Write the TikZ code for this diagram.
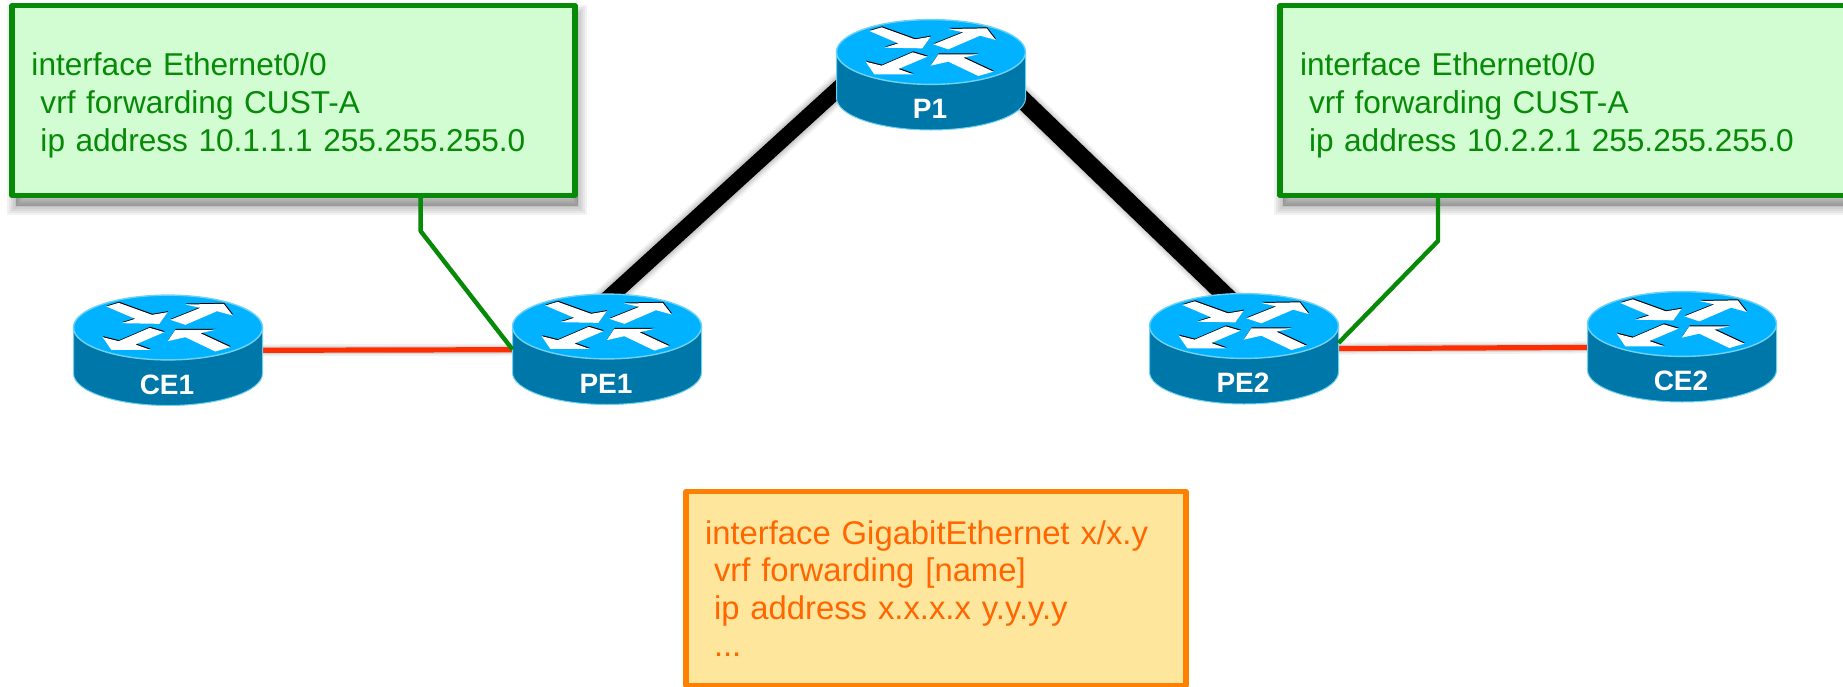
\documentclass[tikz,border=0pt]{standalone}
\usepackage{fontspec}
\setmainfont{Liberation Sans}
\usetikzlibrary{backgrounds}
\definecolor{rtop}{HTML}{00B2FF}
\definecolor{rbody}{HTML}{0077A9}
\definecolor{redge}{HTML}{70D2F2}
\definecolor{gline}{HTML}{078A07}
\definecolor{gfill}{HTML}{D2FCD2}
\definecolor{oline}{HTML}{FF7F00}
\definecolor{ofill}{HTML}{FFE69D}
\definecolor{otext}{HTML}{FF6600}
\definecolor{rlink}{HTML}{FF2E00}
\tikzset{
  routerbox/.style={minimum width=94.5pt,minimum height=55.5pt,inner sep=0pt,outer sep=0pt},
  routerlabel/.style={text=white,font=\fontsize{14}{16}\selectfont\bfseries,inner sep=0pt},
  arrowblack/.style={fill=black,draw=none},
  arrowwhite/.style={fill=white,draw=none},
  notegreen/.style={draw=gline,fill=gfill,line width=2.6pt,text=gline,align=left,inner sep=0pt,
    font=\fontsize{15.8}{19}\selectfont,line join=round},
  noteorange/.style={draw=oline,fill=ofill,line width=2.6pt,text=otext,align=left,inner sep=0pt,
    font=\fontsize{16.4}{18.75}\selectfont,line join=round},
  leader/.style={draw=gline,line width=2.2pt,line join=round},
  corelinkl/.style={draw=black,line width=8pt},
  corelinkr/.style={draw=black,line width=9pt},
  edgelink/.style={draw=rlink,line width=2.6pt},
  halo/.style={draw=black,opacity=.05}
}
\newcommand{\arrowset}[1]{%
  \path[#1] (-185,-63)--(-148,-74)--(-48,-38)--(-1,-46)--(-26,-11)--(-140,-13)--(-98,-26)--cycle;
  \path[#1] (7,-23)--(97,-59)--(52,-69)--(167,-71)--(194,-36)--(147,-49)--(52,-8)--cycle;
  \path[#1] (-11,14)--(-55,1)--(-148,41)--(-196,29)--(-170,67)--(-53,67)--(-98,51)--cycle;
  \path[#1] (-1,41)--(22,7)--(142,7)--(97,17)--(187,59)--(142,72)--(52,29)--cycle;
}
% name, centre x, centre y of the top face, label
\newcommand{\router}[4]{%
  \node[routerbox] (#1) at (#2,#3+23) {};
  \begin{scope}[shift={(#2,#3)}]
    \path[fill=rbody,draw=redge,line width=.5pt]
      (-94.5,0) -- (-94.5,46)
      arc[start angle=180,end angle=360,x radius=47.25pt,y radius=16pt]
      -- (94.5,0) -- cycle;
    \path[fill=rtop,draw=redge,line width=.7pt] (0,0) ellipse [x radius=47.25pt,y radius=16.2pt];
    \begin{scope}[x=.1667pt,y=-.1667pt]
      \begin{scope}[shift={(1.5,-3)}]\arrowset{arrowblack}\end{scope}
      \arrowset{arrowwhite}
    \end{scope}
    \node[routerlabel] (#1-label) at (-1,57) {#4};
  \end{scope}
}
\newcommand{\lift}{\rule{0pt}{16.5pt}}
\begin{document}
\begin{tikzpicture}[x=.5pt,y=-.5pt]
\clip (0,0) rectangle (1843,686);

% soft shadows of the notes
\foreach \w in {1,3,5,7,9}{
  \path[halo,line width=\w pt,fill=black,fill opacity=.05] (16,14) rectangle (578,206);
  \path[halo,line width=\w pt,fill=black,fill opacity=.05] (1283,14) rectangle (1860,206);
}

% routers
\router{CE1}{168}{327.5}{CE1}
\router{PE1}{607}{326.5}{PE1}
\router{P1}{931}{52}{P1}
\router{PE2}{1244}{326}{PE2}
\router{CE2}{1682}{324}{CE2}

% notes
\node[notegreen,minimum width=281.5pt,minimum height=95pt,text width=262pt] (note1) at (293.5,100.5)
  {\lift interface Ethernet0/0\\ \hspace*{4.5pt}vrf forwarding CUST-A\\ \hspace*{4.5pt}ip address 10.1.1.1 255.255.255.0};
\node[notegreen,minimum width=290pt,minimum height=95pt,text width=270pt] (note2) at (1570,100.5)
  {\lift interface Ethernet0/0\\ \hspace*{4.5pt}vrf forwarding CUST-A\\ \hspace*{4.5pt}ip address 10.2.2.1 255.255.255.0};
\node[noteorange,minimum width=250pt,minimum height=97pt,text width=231pt] (note3) at (936,588.5)
  {interface GigabitEthernet x/x.y\\ \hspace*{4.5pt}vrf forwarding [name]\\ \hspace*{4.5pt}ip address x.x.x.x y.y.y.y\\ \hspace*{4.5pt}...};

% connector helpers
\coordinate (bend1) at (420.6,231);
\coordinate (bend2) at (1438,241);
\coordinate (PEonecore) at (600,305.8);
\coordinate (Ponecoreleft) at (850,78);
\coordinate (Ponecoreright) at (1012,89.5);
\coordinate (PEtwocore) at (1236,305.6);

\begin{scope}[on background layer]
  \foreach \w/\o in {14/.05,12/.07,10/.09}{
    \draw[line width=\w pt,opacity=\o,shift={(2,5)}] (PEonecore) -- (Ponecoreleft);
    \draw[line width=\w pt,opacity=\o,shift={(2,5)}] (Ponecoreright) -- (PEtwocore);
  }
  \draw[corelinkl] (PEonecore) -- (Ponecoreleft);
  \draw[corelinkr] (Ponecoreright) -- (PEtwocore);
  \foreach \w/\o in {6/.06,4/.1}{
    \draw[line width=\w pt,opacity=\o,shift={(1,5)}] (CE1) -- (PE1);
    \draw[line width=\w pt,opacity=\o,shift={(1,5)}] (PE2) -- (CE2);
  }
  \draw[edgelink] (CE1) -- (PE1);
  \draw[edgelink] (PE2) -- (CE2);
\end{scope}

\draw[leader] (bend1 |- note1.south) -- (bend1) -- (PE1.west);
\draw[leader] (bend2 |- note2.south) -- (bend2) -- ([yshift=3pt]PE2.east);
\end{tikzpicture}
\end{document}
